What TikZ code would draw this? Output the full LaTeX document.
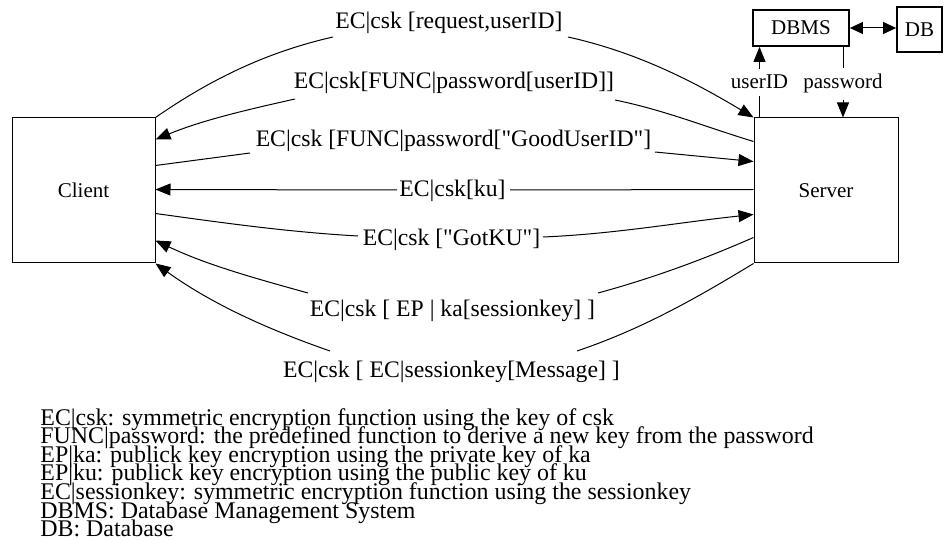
\documentclass[tikz,border=0pt]{standalone}
\usepackage{fontspec}
\setmainfont{Liberation Serif}[Ligatures=TeXOff]
\usetikzlibrary{arrows.meta,calc}
\begin{document}
\begin{tikzpicture}[x=0.5pt,y=-0.5pt,
  box/.style={draw,line width=0.5pt,inner sep=0pt,font=\fontsize{10.5}{12}\selectfont},
  dbbox/.style={draw,line width=0.9pt,inner sep=0pt,font=\fontsize{10.5}{12}\selectfont},
  msg/.style={inner sep=0pt,anchor=base,font=\fontsize{11.85}{14}\selectfont},
  side/.style={inner sep=3pt,anchor=base,font=\fontsize{10.5}{12}\selectfont},
  leg/.style={inner sep=0pt,anchor=base west,font=\fontsize{11.95}{14}\selectfont},
  conn/.style={line width=0.5pt},
  arr/.style={conn,-{Triangle[length=7.5pt,width=6pt]}},
  darr/.style={conn,{Triangle[length=6.5pt,width=6pt]}-{Triangle[length=6.5pt,width=6pt]}}
]
\useasboundingbox (0,0) rectangle (944,540);
% main boxes
\node[box,minimum width=71.5pt,minimum height=72.5pt] (client) at (83.5,190.5) {Client};
\node[box,minimum width=72pt,minimum height=72.5pt] (server) at (826,190.5) {Server};
\node[dbbox,minimum width=48pt,minimum height=18pt] (dbms) at (801,28) {DBMS};
\node[dbbox,minimum width=22.5pt,minimum height=22.5pt] (db) at (919.5,29.5) {DB};
% message labels
\node[msg] (m1) at (449,29) {EC|csk [request,userID]};
\node[msg] (m2) at (454,89) {EC|csk[FUNC|password[userID]]};
\node[msg] (m3) at (453.5,147) {EC|csk [FUNC|password["GoodUserID"]};
\node[msg] (m4) at (452.5,197) {EC|csk[ku]};
\node[msg] (m5) at (451.5,246) {EC|csk ["GotKU"]};
\node[msg] (m6) at (452.5,316) {EC|csk [ EP | ka[sessionkey] ]};
\node[msg] (m7) at (451.5,378) {EC|csk [ EC|sessionkey[Message] ]};
% side labels
\node[side] (uid) at (759.5,89) {userID};
\node[side] (pw) at (843,89) {password};
% label attachment points
\coordinate (m1w) at (333,37);  \coordinate (m1e) at (568,37);
\coordinate (m2w) at (295,99);  \coordinate (m2e) at (615,100);
\coordinate (m3w) at (250,153); \coordinate (m3e) at (655,152);
\coordinate (m4w) at (397,190); \coordinate (m4e) at (510,190);
\coordinate (m5w) at (358,236); \coordinate (m5e) at (543,237);
\coordinate (m6w) at (308,293); \coordinate (m6e) at (598,293);
\coordinate (m7w) at (330,351); \coordinate (m7e) at (577,351);
% connectors
\draw[conn] (client.north east) .. controls (211,79) and (267,52) .. (m1w);
\draw[arr] (m1e) .. controls (636,52) and (693,81) .. (server.north west);
\draw[conn] ($(server.north west)+(0,24)$) .. controls (706,127) and (664,110) .. (m2e);
\draw[arr] (m2w) .. controls (246,110) and (203,120) .. ($(client.north east)+(0,22)$);
\draw[conn] ($(client.north east)+(0,48)$) -- (m3w);
\draw[arr] (m3e) -- ($(server.north west)+(0,44)$);
\draw[conn] ($(server.north west)+(0,72)$) -- (m4e);
\draw[arr] (m4w) -- ($(client.north east)+(0,72)$);
\draw[conn] ($(client.north east)+(0,96)$) .. controls (224,223) and (288,232) .. (m5w);
\draw[arr] (m5e) .. controls (615,234) and (682,222) .. ($(server.north west)+(0,97)$);
\draw[conn] ($(server.north west)+(0,120)$) .. controls (702,260) and (653,278) .. (m6e);
\draw[arr] (m6w) .. controls (254,278) and (207,265) .. ($(client.north east)+(0,123)$);
\draw[conn] (server.south west) .. controls (695,299) and (642,329) .. (m7e);
\draw[arr] (m7w) .. controls (267,329) and (212,304) .. (client.south east);
% database links
\draw[arr] (uid.north) -- (uid.north |- dbms.south);
\draw[conn] (uid.south |- server.north) -- (uid.south);
\draw[conn] (pw.north |- dbms.south) -- (pw.north);
\draw[arr] (pw.south) -- (pw.south |- server.north);
\draw[darr] (dbms.east) -- (dbms.east -| db.west);
% legend
\node[leg] (l1) at (40,425) {EC|csk: symmetric encryption function using the key of csk};
\node[leg] (l2) at (40,443.6) {FUNC|password: the predefined function to derive a new key from the password};
\node[leg] (l3) at (40,462.2) {EP|ka: publick key encryption using the private key of ka};
\node[leg] (l4) at (40,480.8) {EP|ku: publick key encryption using the public key of ku};
\node[leg] (l5) at (40,499.4) {EC|sessionkey: symmetric encryption function using the sessionkey};
\node[leg] (l6) at (40,518) {DBMS: Database Management System};
\node[leg] (l7) at (40,536.6) {DB: Database};
\end{tikzpicture}
\end{document}
